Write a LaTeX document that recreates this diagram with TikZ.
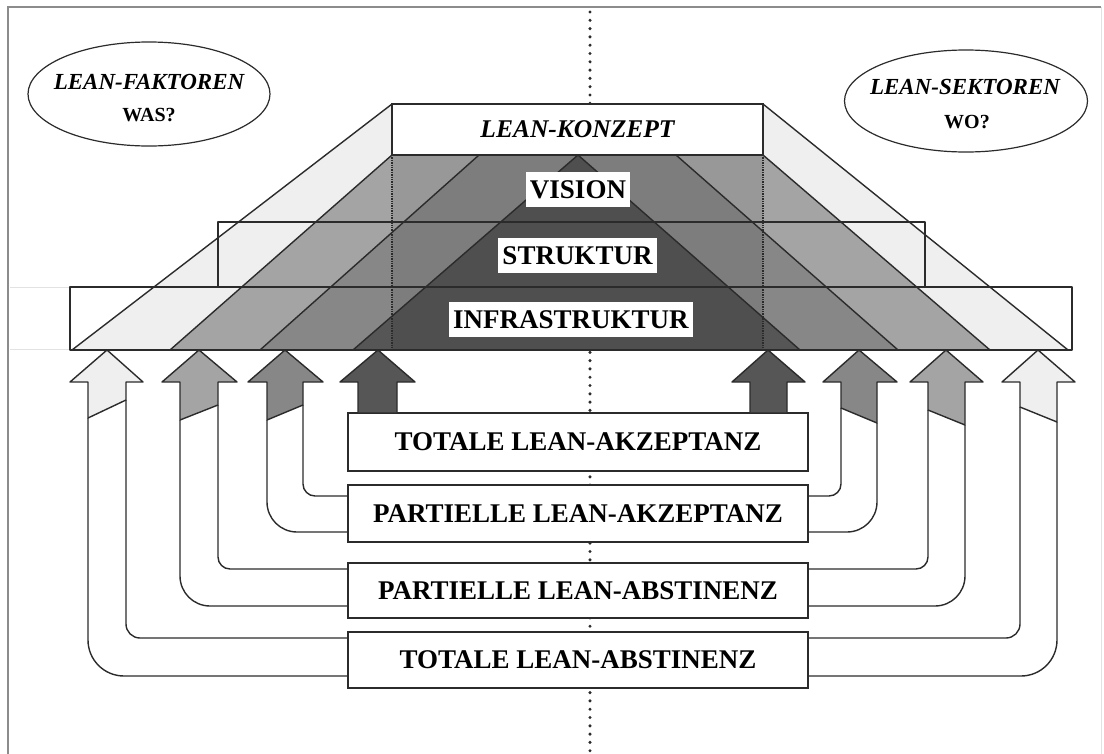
\documentclass[tikz,border=0pt]{standalone}
\usepackage{fontspec}
\setmainfont{Liberation Serif}
\usetikzlibrary{shapes.geometric}

\definecolor{ink}{HTML}{2B2B2B}
\definecolor{framec}{HTML}{8C8C8C}
\definecolor{faintc}{HTML}{E2E2E2}
\definecolor{bandA}{HTML}{EFEFEF}
\definecolor{bandB}{HTML}{A4A4A4}
\definecolor{bandC}{HTML}{878787}
\definecolor{bandD}{HTML}{565656}

\begin{document}
\begin{tikzpicture}[x=1pt,y=-1pt,
  edge/.style={draw=ink, line width=1.4pt, line join=round},
  lbl/.style={fill=white, inner xsep=4pt, inner ysep=0pt, minimum height=35pt,
    font=\fontsize{27}{30}\selectfont\bfseries},
  levelbox/.style={draw=ink, line width=1.3pt, fill=white, minimum width=460pt,
    minimum height=56pt, inner sep=0pt, font=\fontsize{27}{30}\selectfont\bfseries},
  oval/.style={ellipse, draw=ink, line width=1.2pt, minimum width=242pt, minimum height=104pt},
  ovalhead/.style={font=\fontsize{23}{26}\selectfont\bfseries\itshape, inner sep=0pt},
  ovalsub/.style={font=\fontsize{20}{24}\selectfont\bfseries, inner sep=0pt}]
\useasboundingbox (0,0) rectangle (1104,753);

% frame and faint guide lines
\draw[framec, line width=1.5pt] (8,760) -- (8,7) -- (1101,7);
\draw[faintc, line width=1pt] (1101,7) -- (1101,760);
\draw[faintc, line width=1pt] (10,287) -- (70,287) (10,349) -- (70,349);

% dotted centre axis
\draw[ink, line width=3.4pt, line cap=round, dash pattern=on 0pt off 8.3pt] (590,12) -- (590,753);

% nested pyramid bands
\fill[bandA] (392,104) -- (763,104) -- (1068,350) -- (72,350) -- cycle;
\fill[bandB] (392,155) -- (763,155) -- (990,350) -- (170,350) -- cycle;
\fill[bandC] (479,155) -- (676,155) -- (898,350) -- (260,350) -- cycle;
\fill[bandD] (578,155) -- (800,350) -- (353,350) -- cycle;
\fill[black, opacity=0.07] (392,155) rectangle (763,350);

% band edges
\draw[edge] (392,104) -- (72,350) (763,104) -- (1068,350);
\draw[edge] (392,155) -- (170,350) (763,155) -- (990,350);
\draw[edge] (479,155) -- (260,350) (676,155) -- (898,350);
\draw[edge] (353,350) -- (578,155) -- (800,350);

% horizontal layers
\draw[edge] (218,222) rectangle (925,287);
\draw[edge] (70,287) rectangle (1072,350);
\draw[edge, densely dotted] (392,155) -- (392,350) (763,155) -- (763,350);

% concept box and layer labels
\node[draw=ink, line width=1.4pt, fill=white, minimum width=371pt, minimum height=51pt,
  inner sep=0pt, font=\fontsize{25.5}{28}\selectfont\bfseries\itshape]
  (konzept) at (577.5,129.5) {LEAN-KONZEPT};
\node[lbl] (vision) at (578,189.5) {VISION};
\node[lbl] (struktur) at (577.5,255.5) {STRUKTUR};
\node[lbl] (infra) at (571,319.5) {INFRASTRUKTUR};

% question ovals
\node[oval] (faktoren) at (149,94) {};
\node[ovalhead] (faktorenT) at (149,82) {LEAN-FAKTOREN};
\node[ovalsub] (faktorenQ) at (149,115) {WAS?};
\node[oval, minimum height=102pt, minimum width=243pt] (sektoren) at (966,101) {};
\node[ovalhead] (sektorenT) at (965,87) {LEAN-SEKTOREN};
\node[ovalsub] (sektorenQ) at (967,122) {WO?};

% acceptance levels
\node[levelbox, minimum height=58pt] (box1) at (578,442) {TOTALE LEAN-AKZEPTANZ};
\node[levelbox, minimum height=57pt] (box2) at (578,513.5) {PARTIELLE LEAN-AKZEPTANZ};
\node[levelbox, minimum height=55pt] (box3) at (578,590.5) {PARTIELLE LEAN-ABSTINENZ};
\node[levelbox, minimum height=56pt] (box4) at (578,660) {TOTALE LEAN-ABSTINENZ};

% ---- left block arrows ----
% total abstinence
\draw[edge, rounded corners=36pt] (box4.west |- 0,676) -- (88,676) -- (88,418);
\draw[edge, rounded corners=14pt] (box4.west |- 0,638) -- (126,638) -- (126,400);
\filldraw[edge, fill=bandA] (88,418) -- (88,382) -- (70,382) -- (107,350) -- (143,382) -- (126,382) -- (126,400) -- cycle;
% partial abstinence
\draw[edge, rounded corners=30pt] (box3.west |- 0,606) -- (180,606) -- (180,420);
\draw[edge, rounded corners=12pt] (box3.west |- 0,569) -- (218,569) -- (218,405);
\filldraw[edge, fill=bandB] (180,420) -- (180,382) -- (162,382) -- (199,350) -- (237,382) -- (218,382) -- (218,405) -- cycle;
% partial acceptance
\draw[edge, rounded corners=30pt] (box2.west |- 0,532) -- (267,532) -- (267,420);
\draw[edge, rounded corners=12pt] (box2.west |- 0,496) -- (303,496) -- (303,405);
\filldraw[edge, fill=bandC] (267,420) -- (267,382) -- (248,382) -- (285,350) -- (323,382) -- (303,382) -- (303,405) -- cycle;
% total acceptance
\filldraw[edge, fill=bandD] (box1.north -| 358,0) -- (358,382) -- (340,382) -- (378,350) -- (415,382) -- (397,382) -- (box1.north -| 397,0);

% ---- right block arrows ----
% total acceptance
\filldraw[edge, fill=bandD] (box1.north -| 750,0) -- (750,382) -- (732,382) -- (768,350) -- (805,382) -- (787,382) -- (box1.north -| 787,0);
% partial acceptance
\draw[edge, rounded corners=12pt] (box2.east |- 0,496) -- (841,496) -- (841,408);
\draw[edge, rounded corners=30pt] (box2.east |- 0,532) -- (877,532) -- (877,423);
\filldraw[edge, fill=bandC] (841,408) -- (841,382) -- (823,382) -- (859,350) -- (897,382) -- (877,382) -- (877,423) -- cycle;
% partial abstinence
\draw[edge, rounded corners=12pt] (box3.east |- 0,569) -- (928,569) -- (928,410);
\draw[edge, rounded corners=30pt] (box3.east |- 0,606) -- (965,606) -- (965,425);
\filldraw[edge, fill=bandB] (928,410) -- (928,382) -- (910,382) -- (946,350) -- (983,382) -- (965,382) -- (965,425) -- cycle;
% total abstinence
\draw[edge, rounded corners=14pt] (box4.east |- 0,638) -- (1020,638) -- (1020,407);
\draw[edge, rounded corners=36pt] (box4.east |- 0,676) -- (1057,676) -- (1057,422);
\filldraw[edge, fill=bandA] (1020,407) -- (1020,382) -- (1002,382) -- (1038,350) -- (1075,382) -- (1057,382) -- (1057,422) -- cycle;

\end{tikzpicture}
\end{document}
